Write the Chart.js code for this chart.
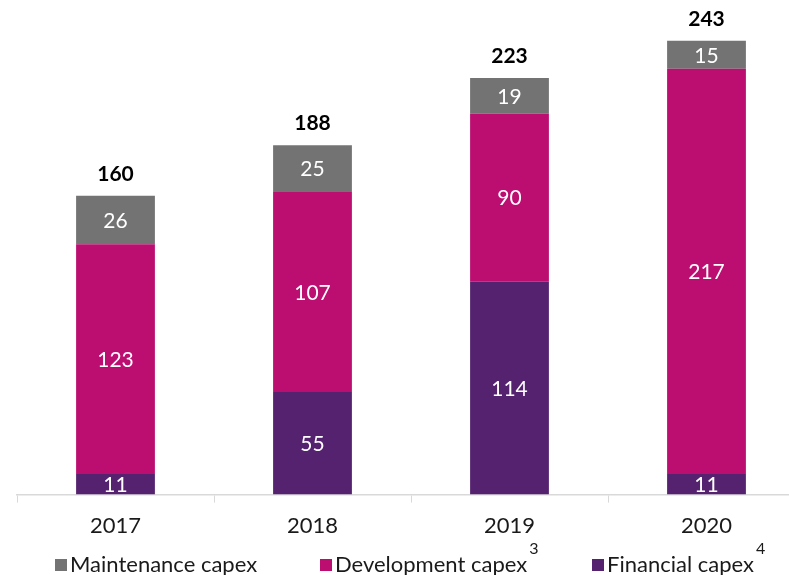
<!DOCTYPE html>
<html>
<head>
<meta charset="utf-8">
<script src="https://cdn.jsdelivr.net/npm/chart.js@4.4.1/dist/chart.umd.min.js"></script>
<style>
  html, body { margin: 0; padding: 0; background: #fff; overflow: hidden; }
  .box { position: relative; width: 805px; height: 575px; }
</style>
</head>
<body>
<div class="box"><canvas id="graficoCapex"></canvas></div>
<script>
const anos = ['2017', '2018', '2019', '2020'];
const capexFinanceiro = [11, 55, 114, 11];
const capexDesenvolvimento = [123, 107, 90, 217];
const capexManutencao = [26, 25, 19, 15];
const totais = [160, 188, 223, 243];

const corManutencao = '#737373';
const corDesenvolvimento = '#bc0e71';
const corFinanceiro = '#55226f';

const fonte = 'Lato, "Noto Sans", sans-serif';

Chart.defaults.font.family = fonte;
Chart.defaults.color = '#1a1a1a';

// rótulos brancos dentro das barras + total em negrito no topo
const rotulos = {
    id: 'rotulos',
    afterDatasetsDraw(chart) {
        const ctx = chart.ctx;
        ctx.save();
        ctx.textAlign = 'center';
        ctx.textBaseline = 'middle';
        ctx.font = '21px ' + fonte;
        ctx.fillStyle = '#ffffff';
        chart.data.datasets.forEach((ds, i) => {
            chart.getDatasetMeta(i).data.forEach((bar, j) => {
                const c = bar.getCenterPoint();
                ctx.fillText(ds.data[j], c.x, c.y + 1);
            });
        });
        const topo = chart.getDatasetMeta(chart.data.datasets.length - 1).data;
        ctx.font = 'bold 21px ' + fonte;
        ctx.fillStyle = '#000000';
        ctx.textBaseline = 'alphabetic';
        topo.forEach((bar, j) => {
            ctx.fillText(totais[j], bar.x, bar.y - 15);
        });
        ctx.restore();
    }
};

// legenda desenhada à mão por causa dos índices sobrescritos
const legendaCapex = {
    id: 'legendaCapex',
    afterDraw(chart) {
        const ctx = chart.ctx;
        const itens = [
            { x: 55, cor: corManutencao, texto: 'Maintenance capex', nota: '' },
            { x: 320, cor: corDesenvolvimento, texto: 'Development capex', nota: '3' },
            { x: 592, cor: corFinanceiro, texto: 'Financial capex', nota: '4' }
        ];
        const y = 565;
        ctx.save();
        ctx.textBaseline = 'middle';
        ctx.textAlign = 'left';
        itens.forEach(it => {
            ctx.fillStyle = it.cor;
            ctx.fillRect(it.x, y - 6, 12, 12);
            ctx.fillStyle = '#1a1a1a';
            ctx.font = '22px ' + fonte;
            ctx.fillText(it.texto, it.x + 15, y);
            if (it.nota) {
                const w = ctx.measureText(it.texto).width;
                ctx.font = '16px ' + fonte;
                ctx.fillText(it.nota, it.x + 15 + w + 2, y - 16);
            }
        });
        ctx.restore();
    }
};

const ctxCapex = document.getElementById('graficoCapex').getContext('2d');
new Chart(ctxCapex, {
    type: 'bar',
    data: {
        labels: anos,
        datasets: [
            { label: 'Financial capex', data: capexFinanceiro, backgroundColor: corFinanceiro },
            { label: 'Development capex', data: capexDesenvolvimento, backgroundColor: corDesenvolvimento },
            { label: 'Maintenance capex', data: capexManutencao, backgroundColor: corManutencao }
        ]
    },
    options: {
        responsive: true,
        maintainAspectRatio: false,
        animation: false,
        datasets: {
            bar: {
                barPercentage: 0.4,
                categoryPercentage: 1,
                borderWidth: 0
            }
        },
        layout: {
            padding: { top: 9, bottom: 26, left: 17, right: 0 }
        },
        plugins: {
            legend: { display: false },
            tooltip: { enabled: false }
        },
        scales: {
            x: {
                stacked: true,
                grid: {
                    offset: true,
                    drawOnChartArea: false,
                    tickLength: 8,
                    color: '#d9d9d9'
                },
                border: { color: '#d9d9d9', width: 1.5 },
                ticks: {
                    padding: 10,
                    font: { size: 22 },
                    color: '#1a1a1a'
                }
            },
            y: {
                stacked: true,
                display: false,
                min: 0,
                max: 260
            }
        }
    },
    plugins: [rotulos, legendaCapex]
});
</script>
</body>
</html>
